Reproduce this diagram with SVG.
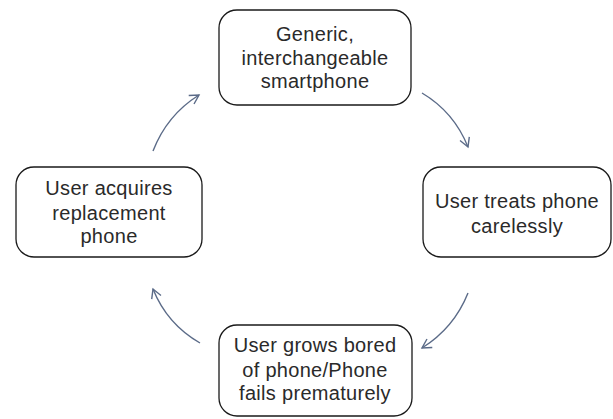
<svg xmlns="http://www.w3.org/2000/svg" width="613" height="419" viewBox="0 0 613 419">
  <style>
    .box { fill: #ffffff; stroke: #1a1a1a; stroke-width: 1.3; }
    .label { font-family: "Liberation Sans", Arial, sans-serif; font-size: 20px; letter-spacing: 0.3px; fill: #2a2a2a; text-anchor: middle; }
    .flow { fill: none; stroke: #5b6b88; stroke-width: 1.4; marker-end: url(#open-head); }
  </style>
  <defs>
    <marker id="open-head" viewBox="0 0 12 12" refX="10" refY="6" markerWidth="12" markerHeight="12" markerUnits="userSpaceOnUse" orient="auto">
      <path d="M1,1 L10,6 L1,11" fill="none" stroke="#5b6b88" stroke-width="1.4"/>
    </marker>
  </defs>

  <rect width="613" height="419" fill="#ffffff"/>

  <g id="connectors">
    <path class="flow" d="M153,151 Q167,115 199,95"/>
    <path class="flow" d="M422,93 Q454,112 468,147"/>
    <path class="flow" d="M468,293 Q454,328 422,348"/>
    <path class="flow" d="M200,343 Q167,324 153,289"/>
  </g>

  <g id="node-generic">
    <rect class="box" x="219" y="10" width="192" height="95" rx="18"/>
    <text class="label" x="315" y="41">Generic,</text>
    <text class="label" x="315" y="65">interchangeable</text>
    <text class="label" x="315" y="88">smartphone</text>
  </g>

  <g id="node-careless">
    <rect class="box" x="423" y="167" width="188" height="90" rx="18"/>
    <text class="label" x="517" y="208">User treats phone</text>
    <text class="label" x="517" y="233">carelessly</text>
  </g>

  <g id="node-bored">
    <rect class="box" x="219" y="325" width="193" height="91" rx="18"/>
    <text class="label" x="315" y="352">User grows bored</text>
    <text class="label" x="315" y="377">of phone/Phone</text>
    <text class="label" x="315" y="400">fails prematurely</text>
  </g>

  <g id="node-replace">
    <rect class="box" x="16" y="167" width="186" height="90" rx="18"/>
    <text class="label" x="109" y="195">User acquires</text>
    <text class="label" x="109" y="220">replacement</text>
    <text class="label" x="109" y="243">phone</text>
  </g>
</svg>
